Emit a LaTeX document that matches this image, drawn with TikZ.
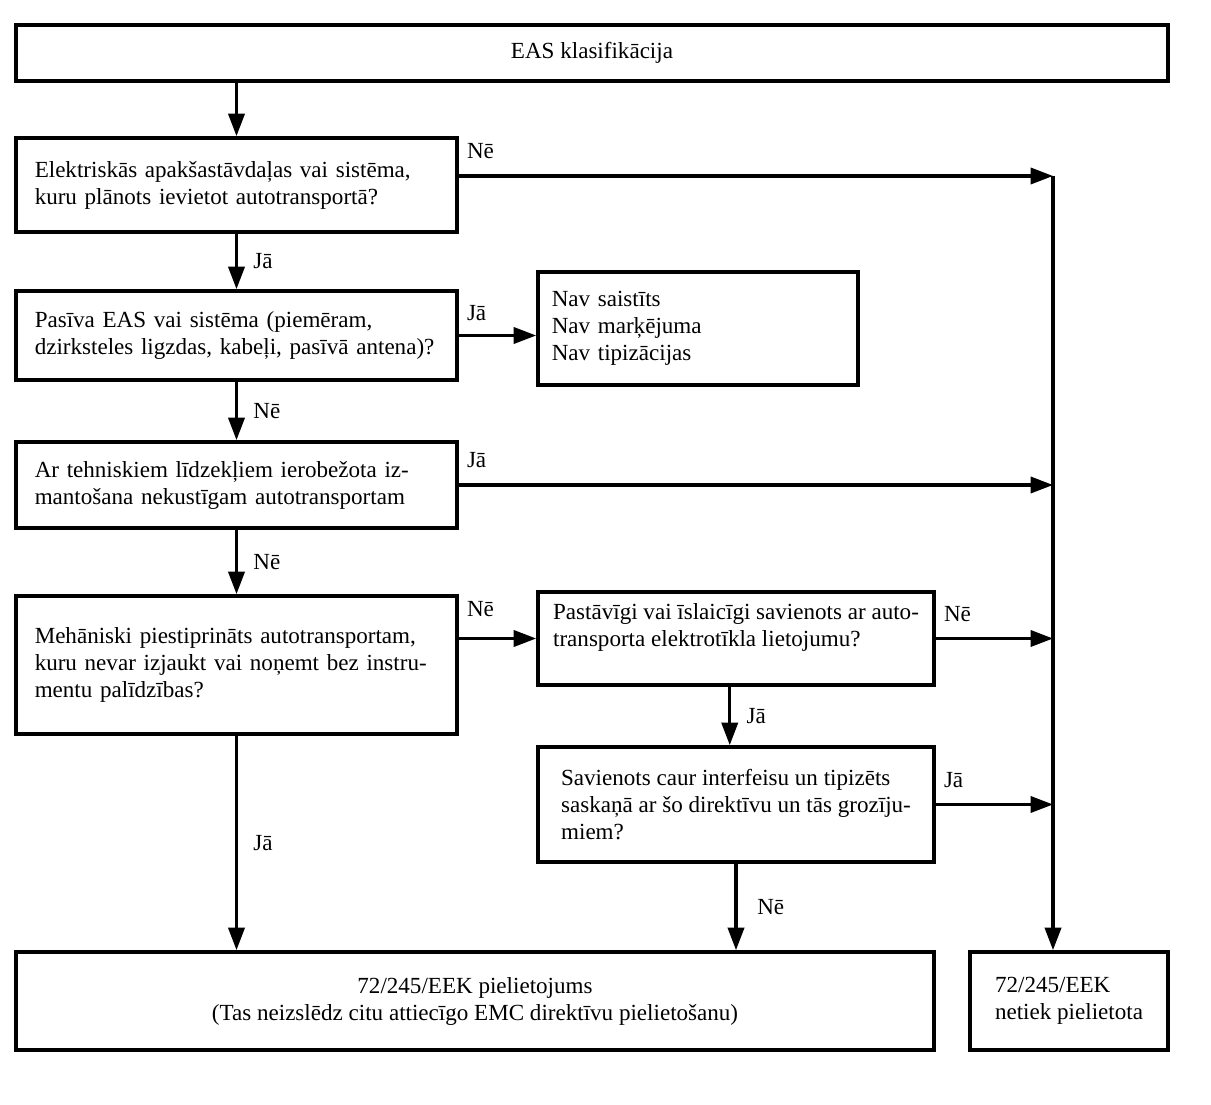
\documentclass[tikz,border=0pt]{standalone}
\usepackage{fontspec}
\setmainfont{Liberation Serif}
\usepackage{tikz}
\usetikzlibrary{arrows.meta,positioning,calc}

\begin{document}
\begin{tikzpicture}[>={Triangle[length=3.6mm,width=2.6mm]},line width=1.4pt,font=\fontsize{10.5}{12.3}\selectfont,
  box/.style={draw,line width=1.7pt,inner xsep=0.3cm,align=left},
  lbl/.style={inner sep=1pt,font=\fontsize{10.5}{12.3}\selectfont}]
\useasboundingbox (0,0) rectangle (19.376,-17.68);
\node[box,align=center,minimum width=18.432cm,minimum height=0.896cm] (top) at (9.472,-0.848) {EAS klasifikācija};
\node[box,text width=6.456cm,minimum height=1.504cm] (b1) at (3.784,-2.96) {Elektriskās apakšastāvdaļas vai sistēma,\\kuru plānots ievietot autotransportā?};
\node[box,text width=6.456cm,minimum height=1.424cm] (b2) at (3.784,-5.368) {Pasīva EAS vai sistēma (piemēram,\\dzirksteles ligzdas, kabeļi, pasīvā antena)?};
\node[box,inner xsep=0.22cm,text width=4.68cm,minimum height=1.808cm] (nav) at (11.168,-5.256) {Nav saistīts\\Nav marķējuma\\Nav tipizācijas};
\node[box,text width=6.456cm,minimum height=1.376cm] (b3) at (3.784,-7.76) {Ar tehniskiem līdzekļiem ierobežota iz-\\mantošana nekustīgam autotransportam};
\node[box,text width=6.456cm,minimum height=2.208cm] (b4) at (3.784,-10.64) {Mehāniski piestiprināts autotransportam,\\kuru nevar izjaukt vai noņemt bez instru-\\mentu palīdzības?};
\node[box,inner xsep=0.15cm,minimum width=6.336cm,minimum height=1.488cm] (bp) at (11.776,-10.216) {Pastāvīgi vai īslaicīgi savienots ar auto-\\transporta elektrotīkla lietojumu?\\\mbox{}};
\node[box,inner xsep=0.15cm,minimum width=6.336cm,minimum height=1.84cm] (bs) at (11.776,-12.872) {Savienots caur interfeisu un tipizēts\\saskaņā ar šo direktīvu un tās grozīju-\\miem?};
\node[box,align=center,minimum width=14.688cm,minimum height=1.568cm] (bot) at (7.6,-16.016) {72/245/EEK pielietojums\\(Tas neizslēdz citu attiecīgo EMC direktīvu pielietošanu)};
\node[box,minimum width=3.168cm,minimum height=1.568cm] (rt) at (17.104,-16.016) {72/245/EEK\\netiek pielietota};
\coordinate (bus) at (16.848,-2.816);
% main column
\draw[->] (top.south -| b1.north) -- (b1.north);
\draw[->] (b1.south) -- node[lbl,right=6pt] {Jā} (b2.north);
\draw[->] (b2.south) -- node[lbl,right=6pt] {Nē} (b3.north);
\draw[->] (b3.south) -- node[lbl,right=6pt] {Nē} (b4.north);
\draw[->] (b4.south) -- node[lbl,right=6pt] {Jā} (b4.south |- bot.north);
% side branches
\draw[->] (b2.east) -- node[lbl,pos=0,above right=5pt and 2pt] {Jā} (b2.east -| nav.west);
\draw[->] (b4.east |- bp.west) -- node[lbl,pos=0,above right=8pt and 2pt] {Nē} (bp.west);
\draw[->] ($(bp.south)+(-0.1,0)$) -- node[lbl,right=6pt] {Jā} ($(bs.north)+(-0.1,0)$);
\draw[->] (bs.south) -- node[lbl,right=8pt] {Nē} (bs.south |- bot.north);
% right bus
\draw[->] (b1.east |- bus) -- node[lbl,pos=0,above right=6pt and 2pt] {Nē} (bus);
\draw[->] (b3.east) -- node[lbl,pos=0,above right=6pt and 2pt] {Jā} (bus |- b3.east);
\draw[->] (bp.east) -- node[lbl,pos=0,above right=6pt and 2pt] {Nē} (bus |- bp.east);
\draw[->] (bs.east) -- node[lbl,pos=0,above right=6pt and 2pt] {Jā} (bus |- bs.east);
\draw[->] (bus) -- (bus |- rt.north);
\end{tikzpicture}
\end{document}
